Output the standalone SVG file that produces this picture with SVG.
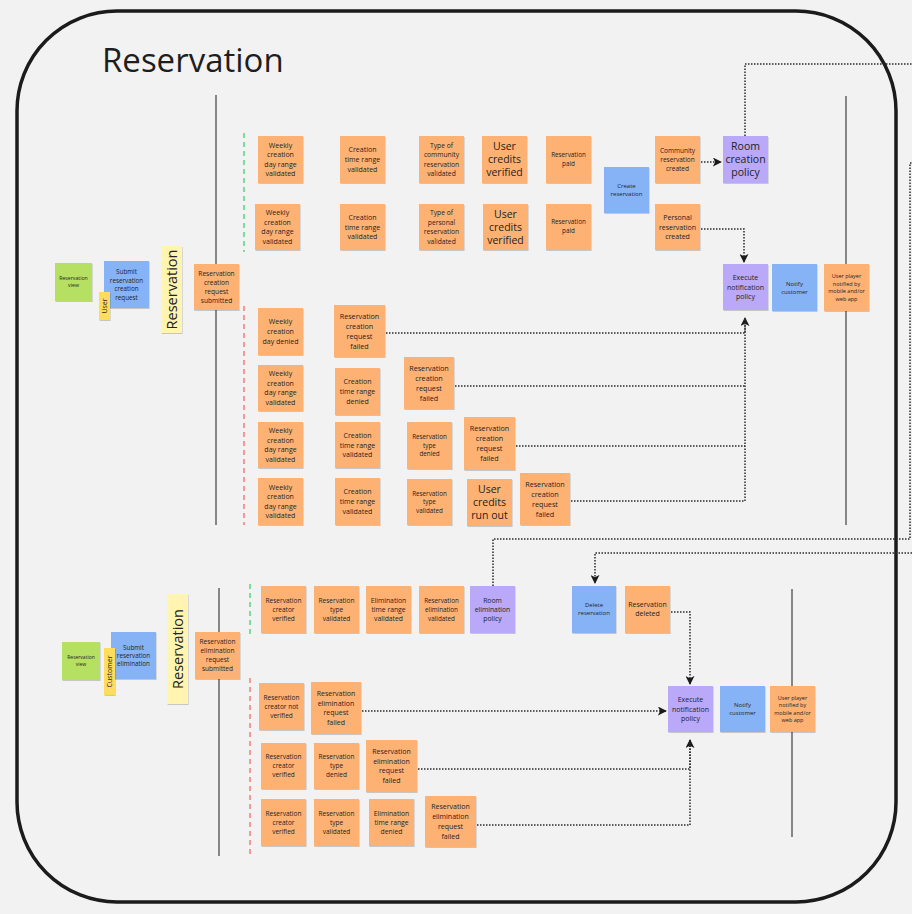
<svg xmlns="http://www.w3.org/2000/svg" width="912" height="914" viewBox="0 0 912 914">
<style>
.bg{fill:#f2f2f2}
.frame{fill:none;stroke:#1b1b1b;stroke-width:3.5}
.lane{stroke:#5a5a5a;stroke-width:1.4;fill:none}
.gd{stroke:#3ccf6a;stroke-width:1.3;stroke-dasharray:5 4;fill:none}
.rd{stroke:#f26b6b;stroke-width:1.3;stroke-dasharray:5 4;fill:none}
.o{fill:#fdb273}
.b{fill:#86b3f6}
.p{fill:#b9a9f8}
.g{fill:#b5e062}
.y{fill:#fff5b0}
.yy{fill:#ffdd5c}
.st{filter:url(#sh)}
text{font-family:"Open Sans","Noto Sans","DejaVu Sans",sans-serif;fill:#232323;text-anchor:middle}
.c{fill:none;stroke:#2a2a2a;stroke-width:1.5;stroke-dasharray:1.5 1.5}
.title{font-size:33px;text-anchor:start;fill:#1e1e1e}
</style>
<defs>
<filter id="sh" x="-10%" y="-10%" width="130%" height="130%">
<feDropShadow dx="0.6" dy="1" stdDeviation="0.7" flood-color="#000" flood-opacity="0.18"/>
</filter>
<marker id="ah" viewBox="0 0 10 10" refX="9" refY="5" markerWidth="9" markerHeight="9" markerUnits="userSpaceOnUse" orient="auto">
<path d="M0,0 L10,5 L0,10 L2.5,5 z" fill="#1a1a1a"/>
</marker>
</defs>
<rect class="bg" x="0" y="0" width="912" height="914"/>
<rect class="frame" x="17" y="11" width="879" height="891" rx="100" ry="100"/>
<text class="title" x="102" y="72">Reservation</text>

<g id="lanes">
<line class="lane" x1="216" y1="95" x2="216" y2="525"/>
<line class="lane" x1="846" y1="96" x2="846" y2="525"/>
<line class="lane" x1="219" y1="588" x2="219" y2="856"/>
<line class="lane" x1="792" y1="589" x2="792" y2="837"/>
<line class="gd" x1="244" y1="133" x2="244" y2="252"/>
<line class="rd" x1="244" y1="306" x2="244" y2="525"/>
<line class="gd" x1="250" y1="584" x2="250" y2="636"/>
<line class="rd" x1="250" y1="678" x2="250" y2="858"/>
</g>

<g id="connectors">
<path class="c" d="M701,162 H721" marker-end="url(#ah)"/>
<path class="c" d="M701,229 H744 V262" marker-end="url(#ah)"/>
<path class="c" d="M745,136 V64 H912"/>
<path class="c" d="M493,586 V539 H910 V163 H912"/>
<path class="c" d="M912,553 H595 V583" marker-end="url(#ah)"/>
<path class="c" d="M386,333 H745 V318" marker-end="url(#ah)"/>
<path class="c" d="M455,386 H745"/>
<path class="c" d="M516,446 H745"/>
<path class="c" d="M571,501 H745 V318"/>
<path class="c" d="M671,612 H690 V684" marker-end="url(#ah)"/>
<path class="c" d="M362,711 H666" marker-end="url(#ah)"/>
<path class="c" d="M418,769 H690 V740" marker-end="url(#ah)"/>
<path class="c" d="M477,825 H690 V740"/>
</g>

<g id="n1"><rect class="g st" x="55" y="263" width="37" height="38"/><text x="73.5" y="280.4" font-size="5.2"><tspan x="73.5">Reservation</tspan><tspan x="73.5" dy="7">view</tspan></text></g>
<g id="n2"><rect class="b st" x="104" y="261" width="45" height="47"/><text x="126.5" y="273.9" font-size="6.3"><tspan x="126.5">Submit</tspan><tspan x="126.5" dy="8.6">reservation</tspan><tspan x="126.5" dy="8.6">creation</tspan><tspan x="126.5" dy="8.6">request</tspan></text></g>
<g id="n3"><rect class="yy st" x="99" y="292" width="11" height="28"/><text transform="translate(104.5,306) rotate(-90)" x="0" y="2.5" font-size="7">User</text></g>
<g id="n4"><rect class="y st" x="161" y="246" width="21" height="87"/><text transform="translate(171.5,289.5) rotate(-90)" x="0" y="5" font-size="14.5">Reservation</text></g>
<g id="n5"><rect class="o st" x="194" y="264" width="45" height="46"/><text x="216.5" y="276.2" font-size="6.6"><tspan x="216.5">Reservation</tspan><tspan x="216.5" dy="8.8">creation</tspan><tspan x="216.5" dy="8.8">request</tspan><tspan x="216.5" dy="8.8">submitted</tspan></text></g>

<g id="n6"><rect class="o st" x="258" y="136" width="45" height="47"/><text x="280.5" y="147.6" font-size="7"><tspan x="280.5">Weekly</tspan><tspan x="280.5" dy="9.6">creation</tspan><tspan x="280.5" dy="9.6">day range</tspan><tspan x="280.5" dy="9.6">validated</tspan></text></g>
<g id="n7"><rect class="o st" x="340" y="136" width="45" height="47"/><text x="362.5" y="152.4" font-size="7"><tspan x="362.5">Creation</tspan><tspan x="362.5" dy="9.6">time range</tspan><tspan x="362.5" dy="9.6">validated</tspan></text></g>
<g id="n8"><rect class="o st" x="419" y="136" width="45" height="47"/><text x="441.5" y="147.8" font-size="6.7"><tspan x="441.5">Type of</tspan><tspan x="441.5" dy="9.4">community</tspan><tspan x="441.5" dy="9.4">reservation</tspan><tspan x="441.5" dy="9.4">validated</tspan></text></g>
<g id="n9"><rect class="o st" x="482" y="136" width="45" height="47"/><text x="504.5" y="150.3" font-size="10.5"><tspan x="504.5">User</tspan><tspan x="504.5" dy="13">credits</tspan><tspan x="504.5" dy="13">verified</tspan></text></g>
<g id="n10"><rect class="o st" x="546" y="136" width="45" height="47"/><text x="568.5" y="156.5" font-size="6.3"><tspan x="568.5">Reservation</tspan><tspan x="568.5" dy="9">paid</tspan></text></g>

<g id="n11"><rect class="o st" x="255" y="204" width="45" height="46"/><text x="277.5" y="215.1" font-size="7"><tspan x="277.5">Weekly</tspan><tspan x="277.5" dy="9.6">creation</tspan><tspan x="277.5" dy="9.6">day range</tspan><tspan x="277.5" dy="9.6">validated</tspan></text></g>
<g id="n12"><rect class="o st" x="340" y="204" width="45" height="46"/><text x="362.5" y="219.9" font-size="7"><tspan x="362.5">Creation</tspan><tspan x="362.5" dy="9.6">time range</tspan><tspan x="362.5" dy="9.6">validated</tspan></text></g>
<g id="n13"><rect class="o st" x="419" y="204" width="45" height="46"/><text x="441.5" y="215.3" font-size="6.7"><tspan x="441.5">Type of</tspan><tspan x="441.5" dy="9.4">personal</tspan><tspan x="441.5" dy="9.4">reservation</tspan><tspan x="441.5" dy="9.4">validated</tspan></text></g>
<g id="n14"><rect class="o st" x="483" y="204" width="45" height="46"/><text x="505.5" y="217.8" font-size="10.5"><tspan x="505.5">User</tspan><tspan x="505.5" dy="13">credits</tspan><tspan x="505.5" dy="13">verified</tspan></text></g>
<g id="n15"><rect class="o st" x="546" y="204" width="45" height="46"/><text x="568.5" y="224" font-size="6.3"><tspan x="568.5">Reservation</tspan><tspan x="568.5" dy="9">paid</tspan></text></g>

<g id="n16"><rect class="b st" x="604" y="167" width="45" height="46"/><text x="626.5" y="188" font-size="6"><tspan x="626.5">Create</tspan><tspan x="626.5" dy="8.3">reservation</tspan></text></g>
<g id="n17"><rect class="o st" x="655" y="136" width="45" height="47"/><text x="677.5" y="153" font-size="6.5"><tspan x="677.5">Community</tspan><tspan x="677.5" dy="8.8">reservation</tspan><tspan x="677.5" dy="8.8">created</tspan></text></g>
<g id="n18"><rect class="o st" x="655" y="204" width="45" height="46"/><text x="677.5" y="219.9" font-size="7"><tspan x="677.5">Personal</tspan><tspan x="677.5" dy="9.6">reservation</tspan><tspan x="677.5" dy="9.6">created</tspan></text></g>
<g id="n19"><rect class="p st" x="723" y="136" width="45" height="47"/><text x="745.5" y="150.3" font-size="10.5"><tspan x="745.5">Room</tspan><tspan x="745.5" dy="13">creation</tspan><tspan x="745.5" dy="13">policy</tspan></text></g>
<g id="n20"><rect class="p st" x="723" y="264" width="45" height="46"/><text x="745.5" y="279.9" font-size="7"><tspan x="745.5">Execute</tspan><tspan x="745.5" dy="9.6">notification</tspan><tspan x="745.5" dy="9.6">policy</tspan></text></g>
<g id="n21"><rect class="b st" x="772" y="264" width="45" height="47"/><text x="794.5" y="285.5" font-size="6"><tspan x="794.5">Notify</tspan><tspan x="794.5" dy="8.3">customer</tspan></text></g>
<g id="n22"><rect class="o st" x="824" y="264" width="45" height="47"/><text x="846.5" y="278.4" font-size="5.5"><tspan x="846.5">User player</tspan><tspan x="846.5" dy="7.4">notified by</tspan><tspan x="846.5" dy="7.4">mobile and/or</tspan><tspan x="846.5" dy="7.4">web app</tspan></text></g>

<g id="n23"><rect class="o st" x="258" y="308" width="45" height="47"/><text x="280.5" y="324.4" font-size="7"><tspan x="280.5">Weekly</tspan><tspan x="280.5" dy="9.6">creation</tspan><tspan x="280.5" dy="9.6">day denied</tspan></text></g>
<g id="n24"><rect class="o st" x="334" y="305" width="51" height="52"/><text x="359.5" y="318.6" font-size="7.2"><tspan x="359.5">Reservation</tspan><tspan x="359.5" dy="10">creation</tspan><tspan x="359.5" dy="10">request</tspan><tspan x="359.5" dy="10">failed</tspan></text></g>
<g id="n25"><rect class="o st" x="258" y="365" width="45" height="46"/><text x="280.5" y="376.1" font-size="7"><tspan x="280.5">Weekly</tspan><tspan x="280.5" dy="9.6">creation</tspan><tspan x="280.5" dy="9.6">day range</tspan><tspan x="280.5" dy="9.6">validated</tspan></text></g>
<g id="n26"><rect class="o st" x="335" y="368" width="45" height="47"/><text x="357.5" y="384.4" font-size="7"><tspan x="357.5">Creation</tspan><tspan x="357.5" dy="9.6">time range</tspan><tspan x="357.5" dy="9.6">denied</tspan></text></g>
<g id="n27"><rect class="o st" x="404" y="357" width="50" height="52"/><text x="429" y="370.6" font-size="7.2"><tspan x="429">Reservation</tspan><tspan x="429" dy="10">creation</tspan><tspan x="429" dy="10">request</tspan><tspan x="429" dy="10">failed</tspan></text></g>
<g id="n28"><rect class="o st" x="258" y="422" width="45" height="46"/><text x="280.5" y="433.1" font-size="7"><tspan x="280.5">Weekly</tspan><tspan x="280.5" dy="9.6">creation</tspan><tspan x="280.5" dy="9.6">day range</tspan><tspan x="280.5" dy="9.6">validated</tspan></text></g>
<g id="n29"><rect class="o st" x="335" y="422" width="45" height="46"/><text x="357.5" y="437.9" font-size="7"><tspan x="357.5">Creation</tspan><tspan x="357.5" dy="9.6">time range</tspan><tspan x="357.5" dy="9.6">validated</tspan></text></g>
<g id="n30"><rect class="o st" x="407" y="422" width="45" height="47"/><text x="429.5" y="439.2" font-size="6.3"><tspan x="429.5">Reservation</tspan><tspan x="429.5" dy="8.6">type</tspan><tspan x="429.5" dy="8.6">denied</tspan></text></g>
<g id="n31"><rect class="o st" x="464" y="417" width="51" height="53"/><text x="489.5" y="431.1" font-size="7.2"><tspan x="489.5">Reservation</tspan><tspan x="489.5" dy="10">creation</tspan><tspan x="489.5" dy="10">request</tspan><tspan x="489.5" dy="10">failed</tspan></text></g>
<g id="n32"><rect class="o st" x="258" y="478" width="45" height="47"/><text x="280.5" y="489.6" font-size="7"><tspan x="280.5">Weekly</tspan><tspan x="280.5" dy="9.6">creation</tspan><tspan x="280.5" dy="9.6">day range</tspan><tspan x="280.5" dy="9.6">validated</tspan></text></g>
<g id="n33"><rect class="o st" x="335" y="478" width="45" height="47"/><text x="357.5" y="494.4" font-size="7"><tspan x="357.5">Creation</tspan><tspan x="357.5" dy="9.6">time range</tspan><tspan x="357.5" dy="9.6">validated</tspan></text></g>
<g id="n34"><rect class="o st" x="407" y="479" width="45" height="46"/><text x="429.5" y="495.7" font-size="6.3"><tspan x="429.5">Reservation</tspan><tspan x="429.5" dy="8.6">type</tspan><tspan x="429.5" dy="8.6">validated</tspan></text></g>
<g id="n35"><rect class="o st" x="467" y="479" width="45" height="47"/><text x="489.5" y="493.3" font-size="10.5"><tspan x="489.5">User</tspan><tspan x="489.5" dy="13">credits</tspan><tspan x="489.5" dy="13">run out</tspan></text></g>
<g id="n36"><rect class="o st" x="520" y="473" width="50" height="52"/><text x="545" y="486.6" font-size="7.2"><tspan x="545">Reservation</tspan><tspan x="545" dy="10">creation</tspan><tspan x="545" dy="10">request</tspan><tspan x="545" dy="10">failed</tspan></text></g>

<g id="n37"><rect class="g st" x="62" y="642" width="38" height="38"/><text x="81" y="659.3" font-size="5"><tspan x="81">Reservation</tspan><tspan x="81" dy="7">view</tspan></text></g>
<g id="n38"><rect class="b st" x="111" y="632" width="45" height="47"/><text x="133.5" y="649.5" font-size="6.3"><tspan x="133.5">Submit</tspan><tspan x="133.5" dy="8.3">reservation</tspan><tspan x="133.5" dy="8.3">elimination</tspan></text></g>
<g id="n39"><rect class="yy st" x="104" y="648" width="11" height="47"/><text transform="translate(109.5,671.5) rotate(-90)" x="0" y="2.5" font-size="7">Customer</text></g>
<g id="n40"><rect class="y st" x="167" y="594" width="21" height="110"/><text transform="translate(177.5,649) rotate(-90)" x="0" y="5" font-size="14.5">Reservation</text></g>
<g id="n41"><rect class="o st" x="195" y="632" width="45" height="47"/><text x="217.5" y="644.3" font-size="6.5"><tspan x="217.5">Reservation</tspan><tspan x="217.5" dy="9">elimination</tspan><tspan x="217.5" dy="9">request</tspan><tspan x="217.5" dy="9">submitted</tspan></text></g>

<g id="n42"><rect class="o st" x="261" y="586" width="45" height="47"/><text x="283.5" y="602.8" font-size="6.5"><tspan x="283.5">Reservation</tspan><tspan x="283.5" dy="9">creator</tspan><tspan x="283.5" dy="9">verified</tspan></text></g>
<g id="n43"><rect class="o st" x="314" y="586" width="45" height="47"/><text x="336.5" y="602.8" font-size="6.5"><tspan x="336.5">Reservation</tspan><tspan x="336.5" dy="9">type</tspan><tspan x="336.5" dy="9">validated</tspan></text></g>
<g id="n44"><rect class="o st" x="366" y="586" width="45" height="47"/><text x="388.5" y="602.5" font-size="6.8"><tspan x="388.5">Elimination</tspan><tspan x="388.5" dy="9.4">time range</tspan><tspan x="388.5" dy="9.4">validated</tspan></text></g>
<g id="n45"><rect class="o st" x="419" y="586" width="45" height="47"/><text x="441.5" y="602.8" font-size="6.3"><tspan x="441.5">Reservation</tspan><tspan x="441.5" dy="9">elimination</tspan><tspan x="441.5" dy="9">validated</tspan></text></g>
<g id="n46"><rect class="p st" x="470" y="586" width="45" height="47"/><text x="492.5" y="602.5" font-size="6.8"><tspan x="492.5">Room</tspan><tspan x="492.5" dy="9.4">elimination</tspan><tspan x="492.5" dy="9.4">policy</tspan></text></g>
<g id="n47"><rect class="b st" x="572" y="586" width="44" height="47"/><text x="594" y="606.5" font-size="6"><tspan x="594">Delete</tspan><tspan x="594" dy="8.5">reservation</tspan></text></g>
<g id="n48"><rect class="o st" x="625" y="586" width="45" height="47"/><text x="647.5" y="606.5" font-size="7"><tspan x="647.5">Reservation</tspan><tspan x="647.5" dy="9">deleted</tspan></text></g>
<g id="n49"><rect class="p st" x="668" y="686" width="45" height="46"/><text x="690.5" y="701.9" font-size="7"><tspan x="690.5">Execute</tspan><tspan x="690.5" dy="9.6">notification</tspan><tspan x="690.5" dy="9.6">policy</tspan></text></g>
<g id="n50"><rect class="b st" x="720" y="686" width="45" height="46"/><text x="742.5" y="707" font-size="6"><tspan x="742.5">Notify</tspan><tspan x="742.5" dy="8">customer</tspan></text></g>
<g id="n51"><rect class="o st" x="770" y="686" width="45" height="46"/><text x="792.5" y="699.9" font-size="5.5"><tspan x="792.5">User player</tspan><tspan x="792.5" dy="7.4">notified by</tspan><tspan x="792.5" dy="7.4">mobile and/or</tspan><tspan x="792.5" dy="7.4">web app</tspan></text></g>

<g id="n52"><rect class="o st" x="259" y="683" width="45" height="47"/><text x="281.5" y="699.8" font-size="6.5"><tspan x="281.5">Reservation</tspan><tspan x="281.5" dy="9">creator not</tspan><tspan x="281.5" dy="9">verified</tspan></text></g>
<g id="n53"><rect class="o st" x="311" y="682" width="50" height="52"/><text x="336" y="695.8" font-size="7"><tspan x="336">Reservation</tspan><tspan x="336" dy="9.8">elimination</tspan><tspan x="336" dy="9.8">request</tspan><tspan x="336" dy="9.8">failed</tspan></text></g>
<g id="n54"><rect class="o st" x="261" y="743" width="45" height="46"/><text x="283.5" y="759.3" font-size="6.5"><tspan x="283.5">Reservation</tspan><tspan x="283.5" dy="9">creator</tspan><tspan x="283.5" dy="9">verified</tspan></text></g>
<g id="n55"><rect class="o st" x="314" y="743" width="45" height="46"/><text x="336.5" y="759.3" font-size="6.5"><tspan x="336.5">Reservation</tspan><tspan x="336.5" dy="9">type</tspan><tspan x="336.5" dy="9">denied</tspan></text></g>
<g id="n56"><rect class="o st" x="366" y="740" width="51" height="52"/><text x="391.5" y="753.8" font-size="7"><tspan x="391.5">Reservation</tspan><tspan x="391.5" dy="9.8">elimination</tspan><tspan x="391.5" dy="9.8">request</tspan><tspan x="391.5" dy="9.8">failed</tspan></text></g>
<g id="n57"><rect class="o st" x="261" y="799" width="45" height="47"/><text x="283.5" y="815.8" font-size="6.5"><tspan x="283.5">Reservation</tspan><tspan x="283.5" dy="9">creator</tspan><tspan x="283.5" dy="9">verified</tspan></text></g>
<g id="n58"><rect class="o st" x="314" y="799" width="45" height="47"/><text x="336.5" y="815.8" font-size="6.5"><tspan x="336.5">Reservation</tspan><tspan x="336.5" dy="9">type</tspan><tspan x="336.5" dy="9">validated</tspan></text></g>
<g id="n59"><rect class="o st" x="369" y="799" width="45" height="47"/><text x="391.5" y="815.5" font-size="6.8"><tspan x="391.5">Elimination</tspan><tspan x="391.5" dy="9.4">time range</tspan><tspan x="391.5" dy="9.4">denied</tspan></text></g>
<g id="n60"><rect class="o st" x="425" y="796" width="51" height="51"/><text x="450.5" y="809.3" font-size="7"><tspan x="450.5">Reservation</tspan><tspan x="450.5" dy="9.8">elimination</tspan><tspan x="450.5" dy="9.8">request</tspan><tspan x="450.5" dy="9.8">failed</tspan></text></g>
</svg>
